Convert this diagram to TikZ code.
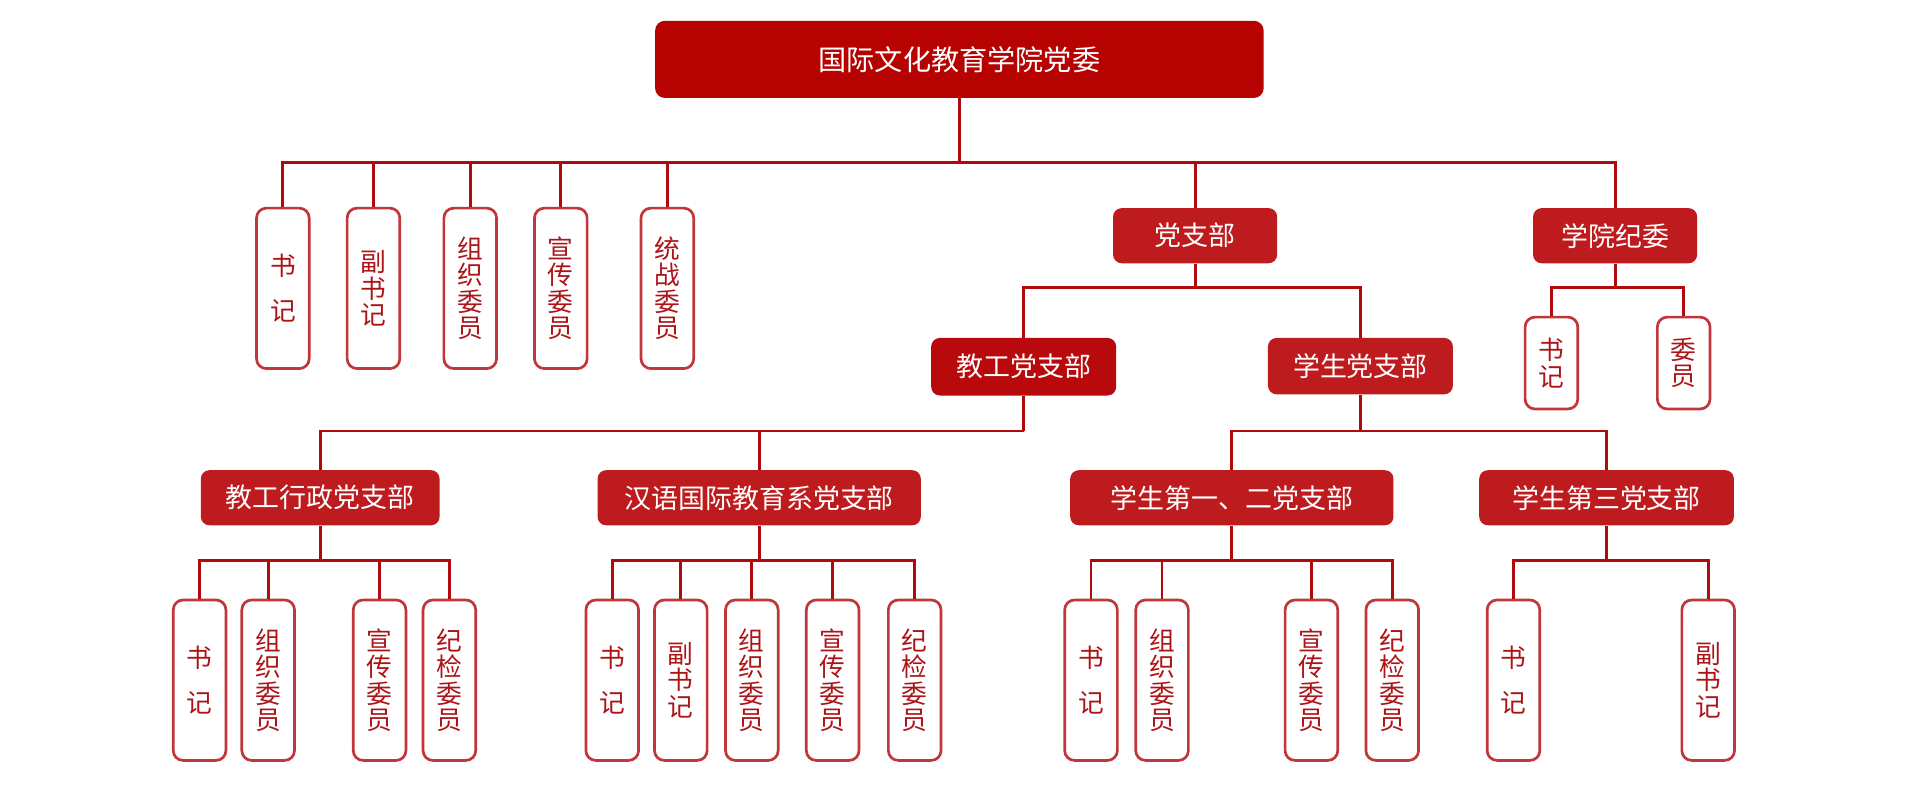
\documentclass[tikz,border=0pt]{standalone}
\usepackage{fontspec}
\newfontfamily\cjk{Noto Sans CJK SC}
\definecolor{topred}{HTML}{B70202}
\definecolor{deepred}{HTML}{B80A0C}
\definecolor{boxred}{HTML}{BE1B1E}
\definecolor{linered}{HTML}{B00A0E}
\definecolor{postred}{HTML}{C0363A}
\definecolor{posttext}{HTML}{AC1418}

\begin{document}
\begin{tikzpicture}[x=1pt, y=1pt,
	link/.style={draw=linered, line width=2.3pt},
	head/.style={rectangle, rounded corners=7pt, fill=boxred, text=white, inner sep=0pt,
		font=\cjk\fontsize{22}{26}\selectfont, minimum height=45pt},
	post/.style={rectangle, rounded corners=8pt, draw=postred, line width=2.2pt, fill=white,
		text=posttext, inner sep=0pt, align=center, font=\cjk\fontsize{21}{21.5}\selectfont,
		minimum width=43pt, minimum height=131pt},
	shortpost/.style={post, minimum height=75pt}]
				\useasboundingbox (0,0) rectangle (1568,655);
				% top
				\node[head, fill=topred, rounded corners=8pt, minimum width=497pt, minimum height=63pt,
					font=\cjk\fontsize{23}{26}\selectfont] (dangwei) at (783.5,606.5) {国际文化教育学院党委};
				\coordinate (bus1) at (783.5,522);
				\draw[link] (dangwei.south) -- (bus1);
				\node[post] (sj) at (231,419.5) {书\\[15pt]记};
				\node[post] (fsj) at (305,419.5) {副\\书\\记};
				\node[post] (zz) at (384,419.5) {组\\织\\委\\员};
				\node[post] (xc) at (458,419.5) {宣\\传\\委\\员};
				\node[post] (tz) at (545,419.5) {统\\战\\委\\员};
				\node[head, minimum width=134pt] (zhibu) at (976,462.5) {党支部};
				\node[head, minimum width=134pt] (jiwei) at (1319,462.5) {学院纪委};
				\foreach \n in {sj,fsj,zz,xc,tz,zhibu,jiwei}
					\draw[link] (bus1) -| (\n.north);
				% jiwei
				\coordinate (bus2) at (1319,420);
				\draw[link] (jiwei.south) -- (bus2);
				\node[shortpost] (jwsj) at (1267,358.5) {书\\记};
				\node[shortpost] (jwwy) at (1375,358.5) {委\\员};
				\draw[link] (bus2) -| (jwsj.north);
				\draw[link] (bus2) -| (jwwy.north);
				% zhibu
				\coordinate (bus3) at (976,420);
				\draw[link] (zhibu.south) -- (bus3);
				\node[head, fill=deepred, minimum width=151pt, minimum height=47pt] (jg) at (836,355.5) {教工党支部};
				\node[head, minimum width=151pt, minimum height=46pt] (xs) at (1111,356) {学生党支部};
				\draw[link] (bus3) -| (jg.north);
				\draw[link] (bus3) -| (xs.north);
				\coordinate (bus4) at (836,303);
				\coordinate (bus5) at (1111,303);
				\draw[link] (jg.south) -- (bus4);
				\draw[link] (xs.south) -- (bus5);
				\node[head, minimum width=195pt] (jgxz) at (261.5,248.5) {教工行政党支部};
				\node[head, minimum width=264pt] (hy) at (620,248.5) {汉语国际教育系党支部};
				\node[head, minimum width=264pt] (xs12) at (1006,248.5) {学生第一、二党支部};
				\node[head, minimum width=208pt] (xs3) at (1312,248.5) {学生第三党支部};
				\draw[link] (bus4) -| (jgxz.north);
				\draw[link] (bus4) -| (hy.north);
				\draw[link] (bus5) -| (xs12.north);
				\draw[link] (bus5) -| (xs3.north);
				% leaves
				\coordinate (b1) at (261.5,197);
				\coordinate (b2) at (620,197);
				\coordinate (b3) at (1006,197);
				\coordinate (b4) at (1312,197);
				\draw[link] (jgxz.south) -- (b1);
				\draw[link] (hy.south) -- (b2);
				\draw[link] (xs12.south) -- (b3);
				\draw[link] (xs3.south) -- (b4);
				\node[post] (a1) at (163,99.5) {书\\[15pt]记};
				\node[post] (a2) at (219,99.5) {组\\织\\委\\员};
				\node[post] (a3) at (310,99.5) {宣\\传\\委\\员};
				\node[post] (a4) at (367,99.5) {纪\\检\\委\\员};
				\foreach \n in {a1,a2,a3,a4}
					\draw[link] (b1) -| (\n.north);
				\node[post] (c1) at (500,99.5) {书\\[15pt]记};
				\node[post] (c2) at (556,99.5) {副\\书\\记};
				\node[post] (c3) at (614,99.5) {组\\织\\委\\员};
				\node[post] (c4) at (680,99.5) {宣\\传\\委\\员};
				\node[post] (c5) at (747,99.5) {纪\\检\\委\\员};
				\foreach \n in {c1,c2,c3,c4,c5}
					\draw[link] (b2) -| (\n.north);
				\node[post] (d1) at (891,99.5) {书\\[15pt]记};
				\node[post] (d2) at (949,99.5) {组\\织\\委\\员};
				\node[post] (d3) at (1071,99.5) {宣\\传\\委\\员};
				\node[post] (d4) at (1137,99.5) {纪\\检\\委\\员};
				\foreach \n in {d1,d2,d3,d4}
					\draw[link] (b3) -| (\n.north);
				\node[post] (e1) at (1236,99.5) {书\\[15pt]记};
				\node[post] (e2) at (1395,99.5) {副\\书\\记};
				\draw[link] (b4) -| (e1.north);
				\draw[link] (b4) -| (e2.north);
			\end{tikzpicture}
\end{document}
